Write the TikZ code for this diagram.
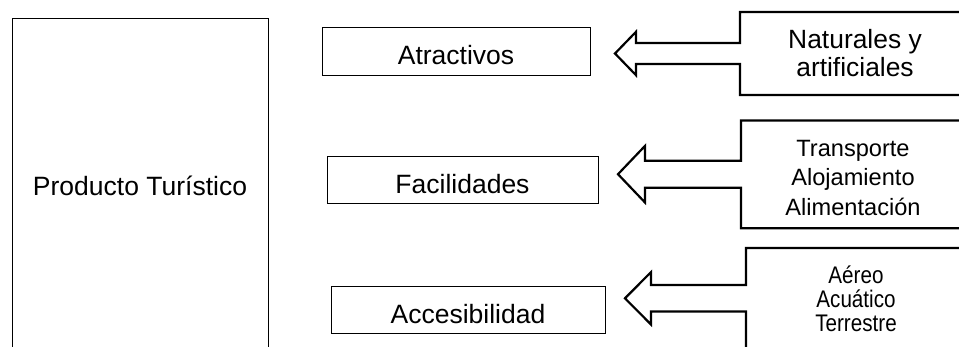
\documentclass[tikz,border=0pt]{standalone}
\usepackage{fontspec}
\setmainfont{Liberation Sans}
\newfontfamily\narrowsans[FakeStretch=0.86]{Liberation Sans}
\usepackage{tikz}

\begin{document}
\begin{tikzpicture}[x=1pt,y=-1pt]
    \tikzstyle{box}=[draw, line width=1pt, inner sep=0pt, text height=26.4pt, text depth=0pt, font=\fontsize{26.5}{30}\selectfont]
    \tikzstyle{callout}=[draw, line width=2.2pt, line join=miter]
        \useasboundingbox (0,0) rectangle (959,347);
        \clip (0,0) rectangle (959,347);
        \node[draw, line width=1pt, minimum width=256pt, minimum height=334pt, font=\fontsize{26.5}{30}\selectfont] (prod) at (140,186) {Producto Turístico};
        \node[box, minimum width=268pt, minimum height=47.5pt] (atr) at (456,51.3) {Atractivos};
        \node[box, minimum width=271pt, minimum height=47.3pt] (fac) at (462.5,180.3) {Facilidades};
        \node[box, minimum width=274pt, minimum height=47.3pt] (acc) at (468,310.3) {Accesibilidad};
        \foreach \tx/\ty/\hb/\h/\s/\L/\T/\B in {615/53.5/636/21.7/10.5/740/12/95, 618/174.2/645/28.3/13.5/741/120.5/228.3, 625/298.3/651/26.2/13.3/746/248/370}
            \draw[callout] (980,\T) -- (\L,\T) -- (\L,\ty-\s) -- (\hb,\ty-\s) -- (\hb,\ty-\h) -- (\tx,\ty)
                -- (\hb,\ty+\h) -- (\hb,\ty+\s) -- (\L,\ty+\s) -- (\L,\B) -- (980,\B) -- cycle;
        \node[align=center, font=\fontsize{26.4}{28.4}\selectfont] (nat) at (855,53) {Naturales y\\artificiales};
        \node[align=center, font=\fontsize{23.6}{29.7}\selectfont] (serv) at (853,177.8) {Transporte\\Alojamiento\\Alimentación};
        \node[align=center, font=\narrowsans\fontsize{24}{24.2}\selectfont] (vias) at (856,298.9) {Aéreo\\Acuático\\Terrestre};
\end{tikzpicture}
\end{document}
